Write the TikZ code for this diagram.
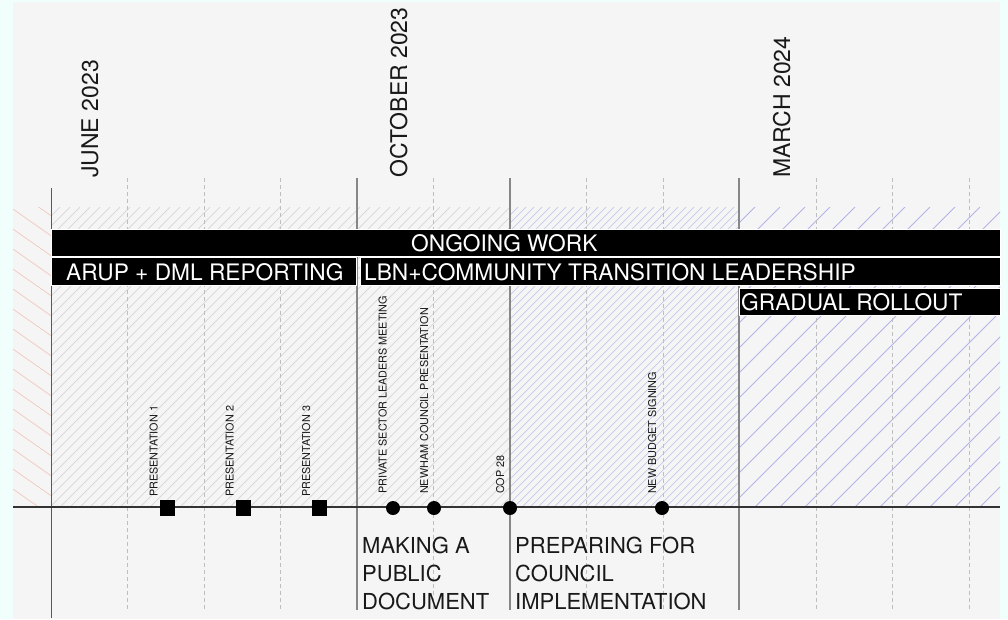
\documentclass[tikz,border=0pt]{standalone}
\usepackage{fontspec}
\setmainfont{TeX Gyre Heros}
\definecolor{outerbg}{RGB}{240,254,252}
\definecolor{panel}{RGB}{245,245,245}
\definecolor{greyhatch}{RGB}{214,214,218}
\definecolor{pinkhatch}{RGB}{240,205,192}
\definecolor{bluedense}{RGB}{200,200,236}
\definecolor{bluesparse}{RGB}{180,180,232}
\definecolor{dashgrey}{RGB}{190,190,190}
\definecolor{solidgrey}{RGB}{135,135,135}
\definecolor{ink}{RGB}{25,25,25}
\begin{document}
\begin{tikzpicture}[x=1pt,y=-1pt,
  bar/.style={fill=black, draw=white, line width=1pt},
  bartext/.style={text=white, font=\fontsize{22.7}{22.7}\selectfont, anchor=base west, inner sep=0pt},
  month/.style={rotate=90, anchor=base west, font=\fontsize{23}{23}\selectfont, inner sep=0pt, text=ink},
  evt/.style={rotate=90, anchor=base west, font=\fontsize{10.8}{10.8}\selectfont, inner sep=0pt, text=ink},
  phase/.style={anchor=base west, font=\fontsize{22}{22}\selectfont, inner sep=0pt, text=ink},
  gridline/.style={draw=dashgrey, line width=0.6pt, dash pattern=on 4pt off 3pt},
  monthline/.style={draw=solidgrey, line width=1.1pt},
  sqmark/.style={fill=black, minimum width=15pt, minimum height=16pt, inner sep=0pt},
  dotmark/.style={circle, fill=black, minimum size=14pt, inner sep=0pt}
]
% backgrounds
\fill[outerbg] (0,0) rectangle (1008,619);
\fill[panel] (13,2) rectangle (1000,619);
\useasboundingbox (0,0) rectangle (1008,619);

% hatching
\begin{scope}
  \clip (13,207) rectangle (51,507);
  \foreach \y in {120,140,...,520} \draw[pinkhatch, line width=0.8pt] (0,\y) -- ++(80,56);
\end{scope}
\begin{scope}
  \clip (51,207) rectangle (510,507);
  \foreach \x in {-260,-250,...,520} \draw[greyhatch, line width=0.7pt] (\x,507) -- ++(300,-300);
\end{scope}
\begin{scope}
  \clip (510,207) rectangle (739,507);
  \foreach \x in {202,210,...,746} \draw[bluedense, line width=0.7pt] (\x,507) -- ++(300,-300);
\end{scope}
\begin{scope}
  \clip (739,207) rectangle (1000,507);
  \foreach \x in {430,455,...,1010} \draw[bluesparse, line width=0.8pt] (\x,507) -- ++(300,-300);
\end{scope}

% grid lines
\foreach \x in {127.5,204,280.5,433.5,586.5,663,816,892.5,969}
  \draw[gridline] (\x,178) -- (\x,610);
\coordinate (junetop) at (51,188);
\coordinate (junebot) at (51,618);
\draw[draw=black!65, line width=1pt] (junetop) -- (junebot);
\coordinate (octtop) at (357,178);
\coordinate (octbot) at (357,610);
\draw[monthline] (octtop) -- (octbot);
\coordinate (novtop) at (510,178);
\coordinate (novbot) at (510,610);
\draw[monthline] (novtop) -- (novbot);
\coordinate (martop) at (739,178);
\coordinate (marbot) at (739,610);
\draw[monthline] (martop) -- (marbot);

% month labels
\node[month] (june) at (98,178) {JUNE 2023};
\node[month] (oct) at (407,178) {OCTOBER 2023};
\node[month] (mar) at (790,178) {MARCH 2024};

% bars
\fill[bar] (51,229.5) rectangle (1000,256.5);
\node[bartext] (ongoing) at (411,251) {ONGOING WORK};
\fill[bar] (51,257.5) rectangle (356,285.5);
\node[bartext] (arup) at (66,280) {ARUP + DML REPORTING};
\fill[bar] (360,257.5) rectangle (1000,285.5);
\node[bartext] (lbn) at (364,280) {LBN+COMMUNITY TRANSITION LEADERSHIP};
\fill[bar] (739,288) rectangle (1000,315);
\node[bartext] (gradual) at (741,310) {GRADUAL ROLLOUT};

% axis
\coordinate (axl) at (13,507);
\coordinate (axr) at (1000,507);
\draw[draw=black!80, line width=1.8pt] (axl) -- (axr);

% markers
\node[sqmark] (p1) at (167,508) {};
\node[sqmark] (p2) at (243,508) {};
\node[sqmark] (p3) at (319,508) {};
\node[dotmark] (m1) at (393,508) {};
\node[dotmark] (m2) at (434,508) {};
\node[dotmark] (m3) at (510,508) {};
\node[dotmark] (m4) at (662,508) {};

% event labels
\node[evt] (lp1) at (157.5,497) {PRESENTATION 1};
\node[evt] (lp2) at (233.5,497) {PRESENTATION 2};
\node[evt] (lp3) at (310,497) {PRESENTATION 3};
\node[evt] (lm1) at (386.5,494) {PRIVATE SECTOR LEADERS MEETING};
\node[evt] (lm2) at (428,494) {NEWHAM COUNCIL PRESENTATION};
\node[evt] (lm3) at (504,494) {COP 28};
\node[evt] (lm4) at (656,494) {NEW BUDGET SIGNING};

% phase labels
\node[phase] (a1) at (362,553) {MAKING A};
\node[phase] (a2) at (362,581) {PUBLIC};
\node[phase] (a3) at (362,609) {DOCUMENT};
\node[phase] (b1) at (515,553) {PREPARING FOR};
\node[phase] (b2) at (515,581) {COUNCIL};
\node[phase] (b3) at (515,609) {IMPLEMENTATION};
\end{tikzpicture}
\end{document}
